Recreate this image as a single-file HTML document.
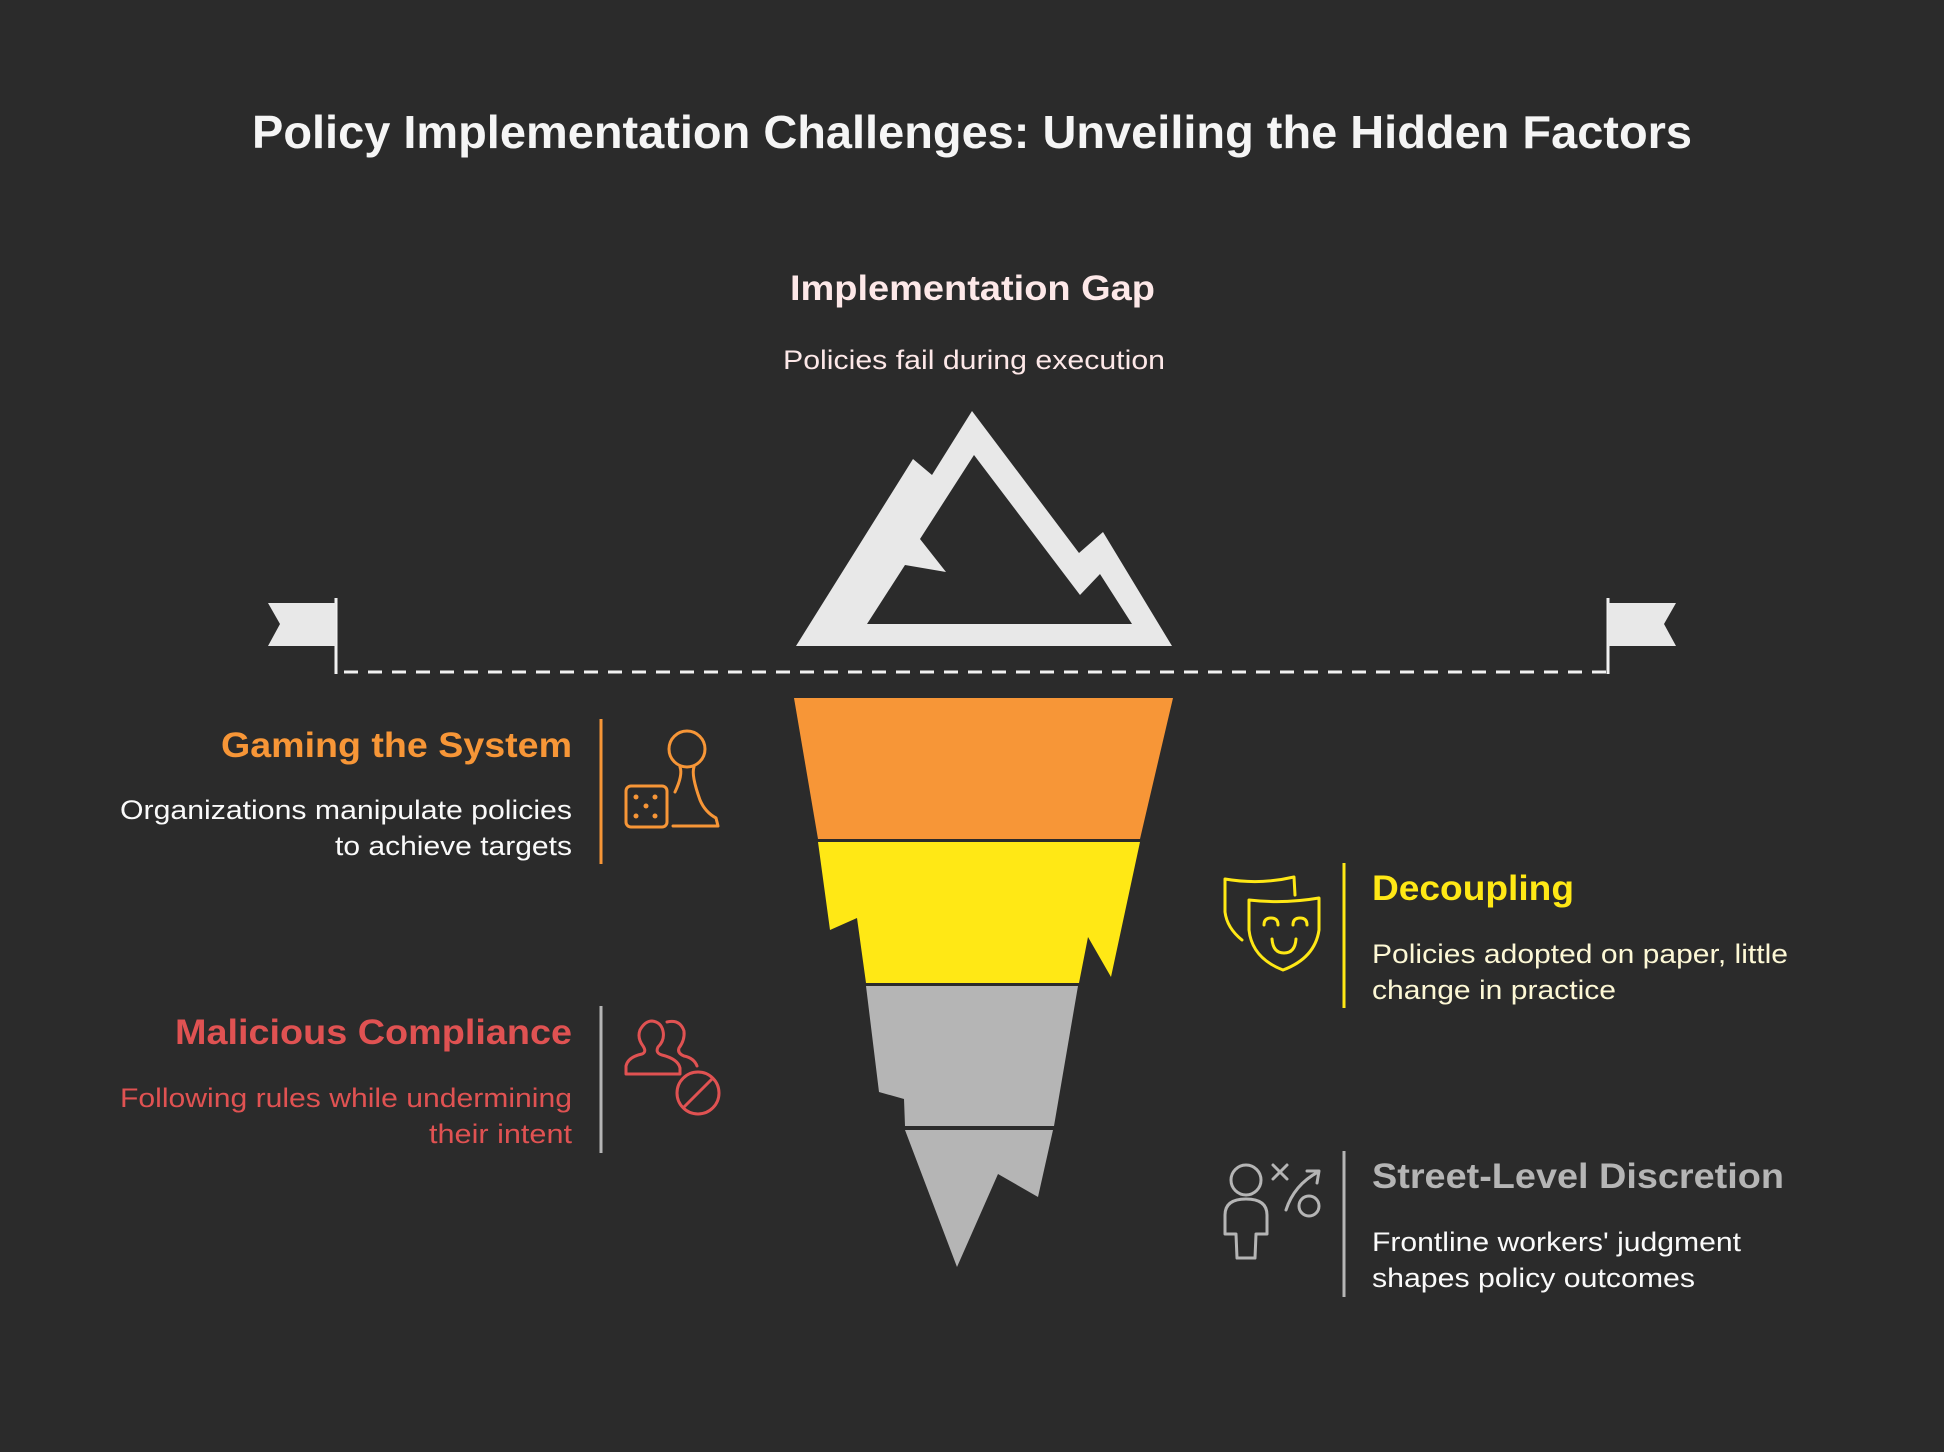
<!DOCTYPE html>
<html><head><meta charset="utf-8"><style>
html,body{margin:0;padding:0;background:#2b2b2b;}
svg{display:block;}
text{font-family:"Liberation Sans",sans-serif;}
</style></head><body>
<svg width="1944" height="1452" viewBox="0 0 1944 1452" xmlns="http://www.w3.org/2000/svg">
<rect width="1944" height="1452" fill="#2b2b2b"/>
<text x="252" y="148" font-size="46" font-weight="bold" fill="#f5f5f5" textLength="1440" lengthAdjust="spacingAndGlyphs">Policy Implementation Challenges: Unveiling the Hidden Factors</text>
<text x="790" y="300" font-size="35" font-weight="bold" fill="#fde8e8" textLength="365" lengthAdjust="spacingAndGlyphs">Implementation Gap</text>
<text x="783" y="369" font-size="27" fill="#fde8e8" textLength="382" lengthAdjust="spacingAndGlyphs">Policies fail during execution</text>

<!-- mountain -->
<path fill="#e8e8e8" fill-rule="evenodd" d="M972 411 L1079 553 L1103 532 L1172 646 L796 646 L913 459 L932 475 Z
M974 455 L920 539 L946 572 L905 565 L867 624 L1132 624 L1100 574 L1080 595 Z"/>

<!-- dashed line & flags -->
<line x1="344" y1="672" x2="1606" y2="672" stroke="#f0f0f0" stroke-width="3" stroke-dasharray="14 10"/>
<line x1="336" y1="598" x2="336" y2="674" stroke="#f0f0f0" stroke-width="3"/>
<path d="M268 603 L336 603 L336 646 L268 646 L280 624 Z" fill="#e8e8e8"/>
<line x1="1608" y1="598" x2="1608" y2="674" stroke="#f0f0f0" stroke-width="3"/>
<path d="M1608 603 L1676 603 L1664 624 L1676 646 L1608 646 Z" fill="#e8e8e8"/>

<!-- iceberg layers -->
<path d="M794 698 L1173 698 L1140 839 L818 839 Z" fill="#f79637"/>
<path d="M818 842 L1140 842 L1111 977 L1088 937 L1079 983 L866 983 L857 918 L830 930 Z" fill="#ffe815"/>
<path d="M866 986 L1078 986 L1054 1126 L905 1126 L904 1099 L879 1092 Z" fill="#b5b5b5"/>
<path d="M905 1130 L1053 1130 L1038 1197 L998 1174 L957 1267 Z" fill="#b5b5b5"/>

<!-- Gaming -->
<line x1="601" y1="719" x2="601" y2="864" stroke="#f79637" stroke-width="3"/>
<text x="572" y="757" font-size="35" font-weight="bold" fill="#f79637" text-anchor="end" textLength="351" lengthAdjust="spacingAndGlyphs">Gaming the System</text>
<text x="572" y="819" font-size="27" fill="#fafafa" text-anchor="end" textLength="452" lengthAdjust="spacingAndGlyphs">Organizations manipulate policies</text>
<text x="572" y="855" font-size="27" fill="#fafafa" text-anchor="end" textLength="237" lengthAdjust="spacingAndGlyphs">to achieve targets</text>
<g fill="none" stroke="#f79637" stroke-width="3" stroke-linecap="round" stroke-linejoin="round">
<rect x="626" y="786" width="41" height="41" rx="5"/>
<circle cx="687" cy="749" r="18"/>
<path d="M680 767 Q683 775 675 792"/>
<path d="M694 767 Q691 775 700 800 Q705 812 716 818 L718 826 L673 826"/>
</g>
<g fill="#f79637"><circle cx="636" cy="797" r="2.5"/><circle cx="655" cy="797" r="2.5"/><circle cx="646" cy="806" r="2.5"/><circle cx="636" cy="816" r="2.5"/><circle cx="655" cy="816" r="2.5"/></g>

<!-- Malicious -->
<line x1="601" y1="1006" x2="601" y2="1153" stroke="#b5b5b5" stroke-width="3"/>
<text x="572" y="1044" font-size="35" font-weight="bold" fill="#e05252" text-anchor="end" textLength="397" lengthAdjust="spacingAndGlyphs">Malicious Compliance</text>
<text x="572" y="1107" font-size="27" fill="#e05252" text-anchor="end" textLength="452" lengthAdjust="spacingAndGlyphs">Following rules while undermining</text>
<text x="572" y="1143" font-size="27" fill="#e05252" text-anchor="end" textLength="143" lengthAdjust="spacingAndGlyphs">their intent</text>
<g fill="none" stroke="#e05252" stroke-width="3" stroke-linecap="round" stroke-linejoin="round">
<path d="M626 1074 L626 1066 Q628 1057 642 1054 Q647 1052 643 1046 Q637 1038 640 1030 Q645 1021 652 1021 Q661 1022 663 1031 Q665 1040 658 1047 Q655 1053 662 1055 Q678 1059 680 1068 L680 1074 Z"/>
<path d="M667 1022 Q680 1019 684 1031 Q685 1040 679 1048 Q677 1053 684 1056 Q694 1058 697 1066"/>
<circle cx="698" cy="1093" r="21"/>
<line x1="684" y1="1107" x2="712" y2="1079"/>
</g>

<!-- Decoupling -->
<line x1="1344" y1="863" x2="1344" y2="1008" stroke="#ffe815" stroke-width="3"/>
<text x="1372" y="900" font-size="35" font-weight="bold" fill="#ffe815" textLength="202" lengthAdjust="spacingAndGlyphs">Decoupling</text>
<text x="1372" y="963" font-size="27" fill="#fdf8d5" textLength="416" lengthAdjust="spacingAndGlyphs">Policies adopted on paper, little</text>
<text x="1372" y="999" font-size="27" fill="#fdf8d5" textLength="244" lengthAdjust="spacingAndGlyphs">change in practice</text>
<g fill="none" stroke="#ffe815" stroke-width="3" stroke-linecap="round" stroke-linejoin="round">
<path d="M1242 940 Q1227 928 1225 912 L1225 879 Q1260 885 1294 877 L1295 895"/>
<path d="M1249 900 Q1284 904 1319 898 L1319 930 Q1315 958 1283 970 Q1252 958 1249 930 Z"/>
<path d="M1264 925 Q1264 918 1271 918 Q1278 918 1278 925"/>
<path d="M1293 925 Q1293 918 1300 918 Q1307 918 1307 925"/>
<path d="M1272 939 Q1273 953 1284 953 Q1295 953 1296 939"/>
</g>

<!-- Street -->
<line x1="1344" y1="1151" x2="1344" y2="1297" stroke="#b5b5b5" stroke-width="3"/>
<text x="1372" y="1188" font-size="35" font-weight="bold" fill="#b5b5b5" textLength="412" lengthAdjust="spacingAndGlyphs">Street-Level Discretion</text>
<text x="1372" y="1251" font-size="27" fill="#fafafa" textLength="369" lengthAdjust="spacingAndGlyphs">Frontline workers' judgment</text>
<text x="1372" y="1287" font-size="27" fill="#fafafa" textLength="323" lengthAdjust="spacingAndGlyphs">shapes policy outcomes</text>
<g fill="none" stroke="#b5b5b5" stroke-width="3" stroke-linecap="round" stroke-linejoin="round">
<circle cx="1246" cy="1180" r="15"/>
<path d="M1237 1258 L1236 1234 L1225 1234 L1225 1215 Q1225 1199 1246 1199 Q1267 1199 1267 1215 L1267 1234 L1256 1234 L1255 1258 Z"/>
<line x1="1273" y1="1165" x2="1287" y2="1179"/><line x1="1287" y1="1165" x2="1273" y2="1179"/>
<path d="M1286 1210 Q1294 1185 1318 1172"/>
<path d="M1307 1171 L1319 1171 L1317 1183"/>
<circle cx="1309" cy="1206" r="10"/>
</g>
</svg>
</body></html>
